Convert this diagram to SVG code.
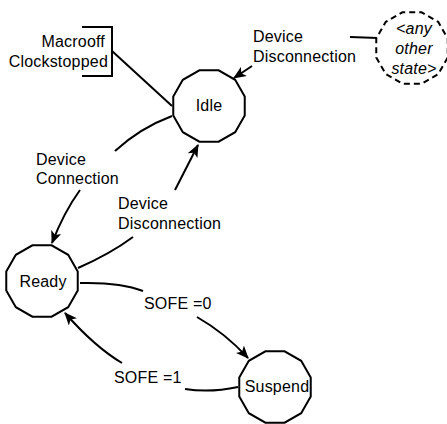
<svg xmlns="http://www.w3.org/2000/svg" xmlns:xlink="http://www.w3.org/1999/xlink" width="447" height="424" viewBox="0 0 447 424">
<style>
text{font-family:"Liberation Sans",Arial,sans-serif;font-size:16px;letter-spacing:0.2px;fill:#000}
.st{fill:#fff;stroke:#000;stroke-width:2}
.dash{fill:#fff;stroke:#000;stroke-width:2;stroke-dasharray:6 4}
.c{fill:none;stroke:#000;stroke-width:2}
.it{font-style:italic}
</style>
<defs>
<polygon id="dod" points="35.74,9.58 26.16,26.16 9.58,35.74 -9.58,35.74 -26.16,26.16 -35.74,9.58 -35.74,-9.58 -26.16,-26.16 -9.58,-35.74 9.58,-35.74 26.16,-26.16 35.74,-9.58"/>
<marker id="ah" viewBox="0 0 12 10" refX="11" refY="5" markerWidth="13" markerHeight="11" markerUnits="userSpaceOnUse" orient="auto">
<path d="M0,0 L12,5 L0,10 L3,5 Z" fill="#000"/>
</marker>
</defs>
<g id="connectors">
<path class="c" d="M82,27 H112 V76 H82"/>
<path class="c" d="M112,51 L172,106"/>
<path class="c" d="M350,37 L378,38"/>
<path class="c" d="M252,66 L234,78" marker-end="url(#ah)"/>
<path class="c" d="M172,116 Q140,128 115,151"/>
<path class="c" d="M80,190 Q64,212 52,243" marker-end="url(#ah)"/>
<path class="c" d="M78,268 Q110,254 133,237"/>
<path class="c" d="M175,190 L198,145" marker-end="url(#ah)"/>
<path class="c" d="M80,283 Q120,282 143,291"/>
<path class="c" d="M197,317 Q225,333 248,358" marker-end="url(#ah)"/>
<path class="c" d="M238,387 Q210,393 185,389"/>
<path class="c" d="M122,363 Q95,347 65,313" marker-end="url(#ah)"/>
</g>
<g id="labels">
<text x="105" y="47" text-anchor="end">Macrooff</text>
<text x="108" y="67" text-anchor="end">Clockstopped</text>
<text x="253" y="42">Device</text>
<text x="253" y="62">Disconnection</text>
<text x="36" y="165">Device</text>
<text x="36" y="184">Connection</text>
<text x="118" y="209">Device</text>
<text x="118" y="229">Disconnection</text>
<text x="144" y="309">SOFE =0</text>
<text x="114" y="383">SOFE =1</text>
</g>
<g id="idle">
<use xlink:href="#dod" href="#dod" x="209" y="106" class="st"/>
<text x="209" y="111" text-anchor="middle">Idle</text>
</g>
<g id="ready">
<use xlink:href="#dod" href="#dod" x="42" y="281" class="st"/>
<text x="43" y="287" text-anchor="middle">Ready</text>
</g>
<g id="suspend">
<use xlink:href="#dod" href="#dod" x="275" y="387" class="st"/>
<text x="277" y="392" text-anchor="middle">Suspend</text>
</g>
<g id="any-other-state">
<use xlink:href="#dod" href="#dod" x="412" y="48" class="dash"/>
<text class="it" x="414" y="34" text-anchor="middle">&lt;any</text>
<text class="it" x="414" y="54" text-anchor="middle">other</text>
<text class="it" x="414" y="74" text-anchor="middle">state&gt;</text>
</g>
</svg>
